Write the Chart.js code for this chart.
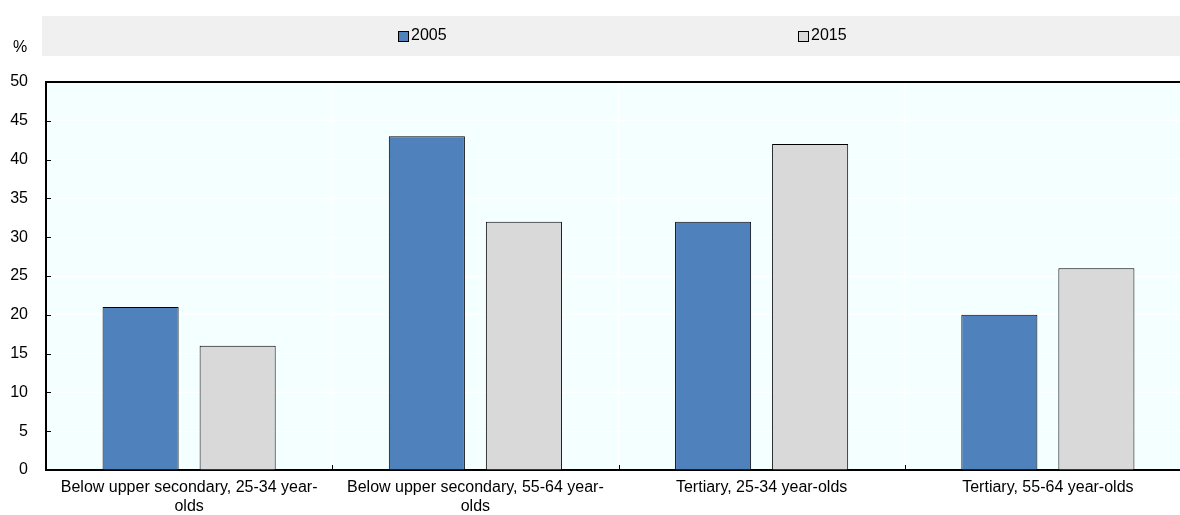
<!DOCTYPE html>
<html>
<head>
<meta charset="utf-8">
<script src="https://cdn.jsdelivr.net/npm/chart.js@4/dist/chart.umd.min.js"></script>
<style>
  html, body { margin: 0; padding: 0; background: #fff; overflow: hidden; }
  #wrap { width: 1180px; height: 515px; overflow: hidden; }
</style>
</head>
<body>
<div id="wrap"><canvas id="c" width="1191" height="515"></canvas></div>
<script>
const categories = [
  ["Below upper secondary, 25-34 year-", "olds"],
  ["Below upper secondary, 55-64 year-", "olds"],
  "Tertiary, 25-34 year-olds",
  "Tertiary, 55-64 year-olds"
];
const seriesLabels = ["2005", "2015"];
const values2005 = [21, 43, 32, 20];
const values2015 = [16, 32, 42, 26];
const yMin = 0, yMax = 50, yStep = 5;
const yUnit = "%";

const FONT = "'Liberation Sans', Arial, sans-serif";
const FSIZE = 16;
const colors = { s2005: "#4F81BD", s2015: "#D9D9D9" };

const bgPlugin = {
  id: 'bgPlugin',
  beforeDraw(chart) {
    const { ctx, chartArea: a } = chart;
    ctx.save();
    ctx.fillStyle = '#F4FFFF';
    ctx.fillRect(a.left, a.top, a.right - a.left, a.bottom - a.top);
    // legend band
    ctx.fillStyle = '#F0F0F0';
    ctx.fillRect(42, 16, 1180 - 42, 40);
    const items = [
      { x: 398, label: chart.data.datasets[0].label, color: chart.data.datasets[0].backgroundColor },
      { x: 798, label: chart.data.datasets[1].label, color: chart.data.datasets[1].backgroundColor }
    ];
    ctx.font = FSIZE + 'px ' + FONT;
    ctx.textBaseline = 'middle';
    items.forEach(it => {
      ctx.fillStyle = it.color;
      ctx.fillRect(it.x + 0.5, 31.5, 10, 10);
      ctx.strokeStyle = '#000';
      ctx.lineWidth = 1;
      ctx.strokeRect(it.x + 0.5, 31.5, 10, 10);
      ctx.fillStyle = '#000';
      ctx.fillText(it.label, it.x + 13, 36);
    });
    ctx.fillText(yUnit, 13, 48);
    ctx.restore();
  },
  afterDraw(chart) {
    const { ctx, chartArea: a } = chart;
    const ys = chart.scales.y, xs = chart.scales.x;
    ctx.save();
    ctx.strokeStyle = '#000';
    ctx.lineWidth = 1;
    for (let v = yMin; v <= yMax; v += yStep) {
      const y = Math.round(ys.getPixelForValue(v)) + 0.5;
      ctx.beginPath(); ctx.moveTo(a.left, y); ctx.lineTo(a.left + 5, y); ctx.stroke();
    }
    for (let i = 1; i < categories.length; i++) {
      const x = Math.round((xs.getPixelForValue(i - 1) + xs.getPixelForValue(i)) / 2) + 0.5;
      ctx.beginPath(); ctx.moveTo(x, a.bottom); ctx.lineTo(x, a.bottom - 5); ctx.stroke();
    }
    // top border
    ctx.lineWidth = 2;
    ctx.beginPath(); ctx.moveTo(a.left, a.top); ctx.lineTo(a.right, a.top); ctx.stroke();
    ctx.restore();
  }
};

new Chart(document.getElementById('c'), {
  type: 'bar',
  data: {
    labels: categories,
    datasets: [
      { label: seriesLabels[0], data: values2005, backgroundColor: colors.s2005, borderColor: '#000', borderWidth: 1,
        categoryPercentage: 0.678, barPercentage: 0.784 },
      { label: seriesLabels[1], data: values2015, backgroundColor: colors.s2015, borderColor: '#000', borderWidth: 1,
        categoryPercentage: 0.678, barPercentage: 0.784 }
    ]
  },
  options: {
    responsive: false,
    animation: false,
    layout: { padding: { top: 82, right: 0, left: 0, bottom: 0 } },
    plugins: { legend: { display: false }, tooltip: { enabled: false } },
    scales: {
      x: {
        grid: { color: '#FFFFFF', lineWidth: 1, drawTicks: false, offset: true },
        border: { color: '#000', width: 2 },
        ticks: { color: '#000', font: { family: FONT, size: FSIZE, lineHeight: 1.18 }, maxRotation: 0, autoSkip: false, padding: 8 },
        afterFit(s) { s.height = 45; }
      },
      y: {
        min: yMin, max: yMax,
        grid: { color: '#FFFFFF', lineWidth: 1, drawTicks: false },
        border: { color: '#000', width: 2 },
        ticks: { stepSize: yStep, color: '#000', font: { family: FONT, size: FSIZE }, padding: 18 },
        afterFit(s) { s.width = 46; }
      }
    }
  },
  plugins: [bgPlugin]
});
</script>
</body>
</html>
